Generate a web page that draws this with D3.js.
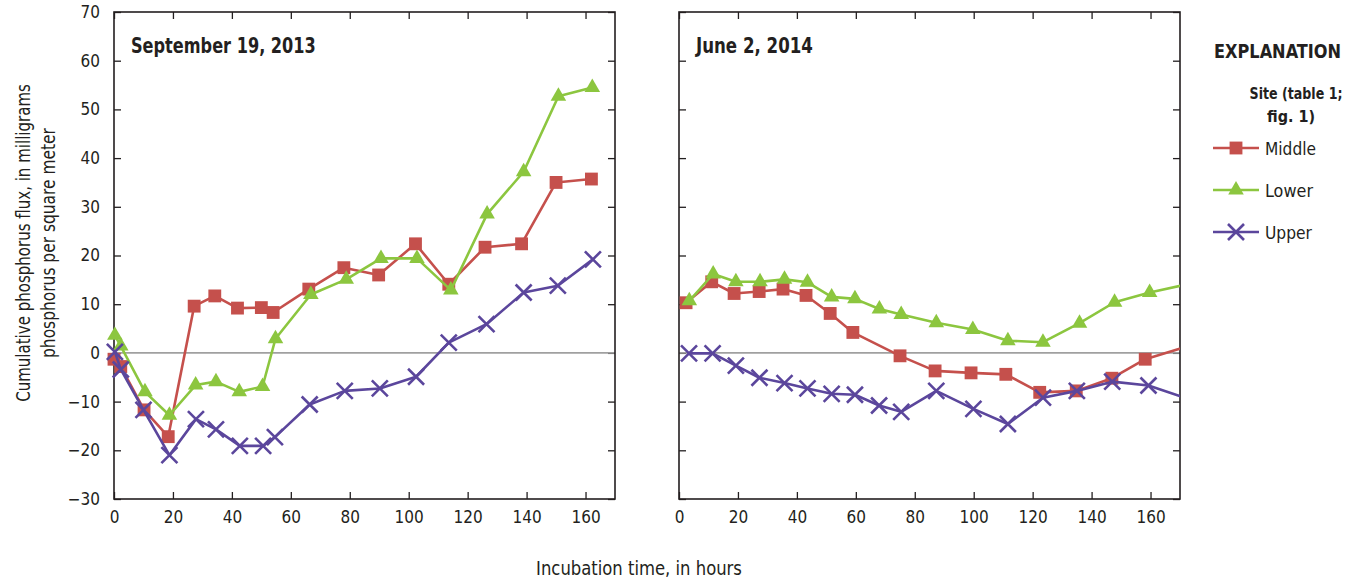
<!DOCTYPE html>
<html>
<head>
<meta charset="utf-8">
<script src="https://cdn.jsdelivr.net/npm/d3@7"></script>
<style>
  html, body { margin: 0; padding: 0; background: #fff; }
  svg text { font-family: "Liberation Sans Narrow", "DejaVu Sans Condensed", "Arial Narrow", sans-serif; fill: #231f20; }
</style>
</head>
<body>
<svg id="chart" width="1353" height="581"></svg>
<script>
// ---- Data ----
const yTicks = [-30, -20, -10, 0, 10, 20, 30, 40, 50, 60, 70];
const xTicks = [0, 20, 40, 60, 80, 100, 120, 140, 160];
const seriesNames = ["Middle", "Lower", "Upper"];
const panelTitles = ["September 19, 2013", "June 2, 2014"];

// Panel 1: September 19, 2013
const sepMiddleHours = [0, 2.3, 10.2, 18.4, 27.2, 34.2, 41.9, 50, 54, 66.1, 78, 89.8, 102.3, 113.6, 125.9, 138.3, 150, 162];
const sepMiddleFlux  = [-1.3, -2.8, -11.7, -17.2, 9.6, 11.7, 9.2, 9.3, 8.3, 13.1, 17.5, 16, 22.4, 14.1, 21.7, 22.4, 35, 35.7];
const sepLowerHours  = [0.3, 2.3, 10.5, 18.8, 27.7, 34.6, 42.5, 50.4, 54.8, 66.8, 78.8, 90.6, 102.8, 114.3, 126.6, 139, 150.8, 162.3];
const sepLowerFlux   = [3.6, 1.4, -8, -12.8, -6.6, -5.9, -8, -6.9, 2.9, 12, 15.1, 19.4, 19.4, 12.9, 28.5, 37.2, 52.7, 54.5];
const sepUpperHours  = [0.3, 2.3, 10, 18.8, 27.8, 34.6, 42.7, 50.6, 54.6, 66.4, 78.3, 90.2, 102.5, 113.6, 126.4, 139, 150.6, 162.5];
const sepUpperFlux   = [0.2, -3.4, -11.7, -21, -13.6, -15.7, -19.1, -19.1, -17.3, -10.6, -7.8, -7.3, -4.9, 2.1, 5.9, 12.4, 13.8, 19.2];

// Panel 2: June 2, 2014 (last point lies past the 170-hour axis end and is clipped)
const junMiddleHours = [2.4, 11.1, 18.7, 27.2, 35.3, 43.1, 51.3, 59, 75, 86.9, 99.1, 110.9, 122.4, 134.8, 146.9, 158.2, 174];
const junMiddleFlux  = [10.3, 14.6, 12.2, 12.6, 13.1, 11.8, 8.1, 4.2, -0.6, -3.7, -4.1, -4.4, -8.1, -7.8, -5.2, -1.3, 1.6];
const junLowerHours  = [3.5, 11.6, 19.3, 27.5, 35.8, 43.6, 51.8, 59.7, 68, 75.4, 87.3, 99.7, 111.6, 123.5, 135.9, 147.8, 159.7, 174];
const junLowerFlux   = [10.7, 16.2, 14.6, 14.6, 15.1, 14.5, 11.5, 11.1, 9, 7.9, 6.2, 4.8, 2.5, 2.2, 6.1, 10.4, 12.4, 14.3];
const junUpperHours  = [3.4, 11.4, 19.3, 27.3, 35.8, 43.6, 51.8, 59.7, 67.9, 75.4, 87.3, 99.9, 111.6, 123.5, 135, 147, 159.3, 174];
const junUpperFlux   = [-0.1, -0.1, -2.6, -5.1, -6.2, -7.3, -8.4, -8.6, -10.8, -12.1, -7.8, -11.5, -14.6, -9.2, -7.8, -5.9, -6.7, -9.7];

// ---- Styles ----
const colors = { Middle: "#c5504c", Lower: "#8cc63f", Upper: "#5b469c" };
const axisColor = "#231f20";

const zip = (xs, ys) => xs.map((x, i) => ({ x, y: ys[i] }));
const panels = [
  { title: panelTitles[0], titleW: 185, left: 114, labelsY: true,
    series: { Middle: zip(sepMiddleHours, sepMiddleFlux), Lower: zip(sepLowerHours, sepLowerFlux), Upper: zip(sepUpperHours, sepUpperFlux) } },
  { title: panelTitles[1], titleW: 117, left: 679, labelsY: false,
    series: { Middle: zip(junMiddleHours, junMiddleFlux), Lower: zip(junLowerHours, junLowerFlux), Upper: zip(junUpperHours, junUpperFlux) } }
];

const svg = d3.select("#chart");
const plotTop = 12, plotH = 487, plotW = 501;
const x = d3.scaleLinear().domain([0, 170]).range([0, plotW]);
const y = d3.scaleLinear().domain([-30, 70]).range([plotH, 0]);

// Place a text at (ax, ay) and squeeze it horizontally to a target width (condensed look)
function fitText(parent, str, ax, ay, w, opts) {
  const t = parent.append("text").attr("x", 0).attr("y", 0)
    .attr("font-size", opts.size).attr("font-weight", opts.bold ? "bold" : "normal")
    .attr("text-anchor", opts.anchor || "start").text(str);
  const nat = t.node().getComputedTextLength();
  const k = Math.min(1, w / nat);
  t.attr("transform", `translate(${ax},${ay}) scale(${k},1)`);
  return t;
}

function drawMarker(g, name, px, py) {
  const c = colors[name];
  if (name === "Middle") {
    g.append("path").attr("transform", `translate(${px},${py})`)
      .attr("d", d3.symbol().type(d3.symbolSquare).size(165)()).attr("fill", c);
  } else if (name === "Lower") {
    g.append("path").attr("transform", `translate(${px},${py})`)
      .attr("d", d3.symbol().type(d3.symbolTriangle).size(105)()).attr("fill", c);
  } else {
    const s = 8;
    g.append("path").attr("transform", `translate(${px},${py})`)
      .attr("d", `M${-s},${-s}L${s},${s}M${-s},${s}L${s},${-s}`)
      .attr("stroke", c).attr("stroke-width", 2.6).attr("fill", "none");
  }
}

panels.forEach((p, pi) => {
  const g = svg.append("g").attr("transform", `translate(${p.left},${plotTop})`);
  const clipId = "clip" + pi;
  g.append("clipPath").attr("id", clipId).append("rect")
    .attr("x", -10).attr("y", -10).attr("width", plotW + 10).attr("height", plotH + 20);

  // Axes with inside ticks
  const axL = d3.axisLeft(y).tickValues(yTicks).tickSizeInner(-7).tickSizeOuter(0).tickPadding(14);
  if (!p.labelsY) axL.tickFormat("");
  const axR = d3.axisRight(y).tickValues(yTicks).tickSizeInner(-7).tickSizeOuter(0).tickFormat("");
  const axB = d3.axisBottom(x).tickValues(xTicks).tickSizeInner(-7).tickSizeOuter(0).tickPadding(12);
  const axT = d3.axisTop(x).tickValues(xTicks).tickSizeInner(-7).tickSizeOuter(0).tickFormat("");

  const styleAxis = sel => {
    sel.select(".domain").remove();
    sel.selectAll("line").attr("stroke", axisColor).attr("stroke-width", 1.3);
    sel.selectAll("text").attr("font-size", 17).attr("fill", axisColor)
      .text(function () { return d3.select(this).text().replace("-", "\u2212"); });
  };
  g.append("g").call(axL).call(styleAxis);
  g.append("g").attr("transform", `translate(${plotW},0)`).call(axR).call(styleAxis);
  g.append("g").attr("transform", `translate(0,${plotH})`).call(axB).call(styleAxis);
  g.append("g").call(axT).call(styleAxis);

  // zero line
  g.append("line").attr("x1", 0).attr("x2", plotW).attr("y1", y(0)).attr("y2", y(0))
    .attr("stroke", "#a0a0a0").attr("stroke-width", 1.6);

  // frame
  g.append("rect").attr("width", plotW).attr("height", plotH)
    .attr("fill", "none").attr("stroke", axisColor).attr("stroke-width", 1.6);

  // series
  const dataG = g.append("g").attr("clip-path", `url(#${clipId})`);
  const line = d3.line().x(d => x(d.x)).y(d => y(d.y));
  seriesNames.forEach(name => {
    const pts = p.series[name];
    dataG.append("path").datum(pts).attr("d", line)
      .attr("fill", "none").attr("stroke", colors[name]).attr("stroke-width", 2.6)
      .attr("stroke-linejoin", "round");
    const mg = dataG.append("g");
    pts.forEach(d => drawMarker(mg, name, x(d.x), y(d.y)));
  });

  // title
  fitText(g, p.title, 17, 41, p.titleW, { size: 21, bold: true });
});

// y-axis title
const yt = svg.append("g").attr("transform", "translate(0,243) rotate(-90)");
fitText(yt, "Cumulative phosphorus  flux, in milligrams", 0, 30, 318, { size: 19, anchor: "middle" });
fitText(yt, "phosphorus per square meter", 0, 55, 230, { size: 19, anchor: "middle" });

// x-axis title
fitText(svg, "Incubation time, in hours", 639, 575, 206, { size: 19, anchor: "middle" });

// Legend
const lg = svg.append("g");
fitText(lg, "EXPLANATION", 1341, 58, 127, { size: 20, bold: true, anchor: "end" });
fitText(lg, "Site (table 1;", 1296, 99, 93, { size: 16, bold: true, anchor: "middle" });
fitText(lg, "fig. 1)", 1291, 122, 51, { size: 16, bold: true, anchor: "middle" });
const legendW = { Middle: 51, Lower: 48, Upper: 47 };
seriesNames.forEach((name, i) => {
  const ly = 148 + i * 42;
  lg.append("line").attr("x1", 1213).attr("x2", 1259).attr("y1", ly).attr("y2", ly)
    .attr("stroke", colors[name]).attr("stroke-width", 2.6);
  drawMarker(lg, name, 1236, ly);
  fitText(lg, name, 1265, ly + 7, legendW[name], { size: 18 });
});
</script>
</body>
</html>
